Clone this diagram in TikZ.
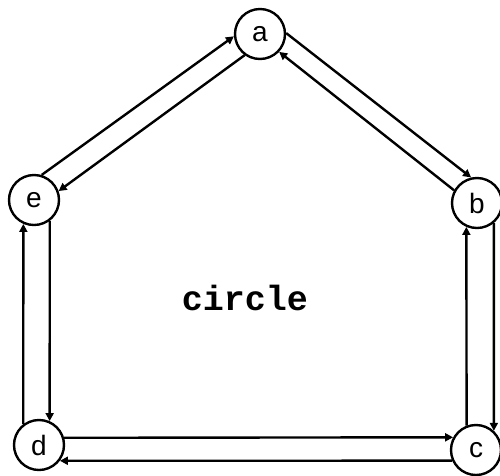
\documentclass[tikz,border=0pt]{standalone}
\usepackage{fontspec}
\setmainfont{Liberation Sans}
\newfontfamily\monob{Liberation Mono}
\usetikzlibrary{arrows.meta}
\begin{document}
\begin{tikzpicture}[x=1pt,y=-1pt,
  vtx/.style={circle,draw,line width=2.4pt,minimum size=50pt,inner sep=0pt,font=\fontsize{28}{28}\selectfont},
  link/.style={line width=2.4pt,-{Triangle[length=8pt,width=8pt]}}]
\useasboundingbox (0,0) rectangle (500,475);
\node[vtx] (a) at (260,34) {a};
\node[vtx] (b) at (477,203) {b};
\node[vtx] (c) at (476,450) {c};
\node[vtx] (d) at (39,445) {d};
\node[vtx] (e) at (34,200) {e};
\node[font=\monob\bfseries\fontsize{35}{35}\selectfont] (t) at (245,298) {circle};
% a - b
\draw[link] (a.2) -- (b.103);
\draw[link] (b.151) -- (a.-43);
% a - e
\draw[link] (e.73) -- (a.185);
\draw[link] (a.234) -- (e.20);
% e - d
\draw[link] (d.127) -- (e.246);
\draw[link] (e.-53) -- (d.66);
% b - c
\draw[link] (c.111) -- (b.246);
\draw[link] (b.-50) -- (c.47);
% d - c
\draw[link] (d.16) -- (c.151);
\draw[link] (c.204) -- (d.-37);
\end{tikzpicture}
\end{document}
